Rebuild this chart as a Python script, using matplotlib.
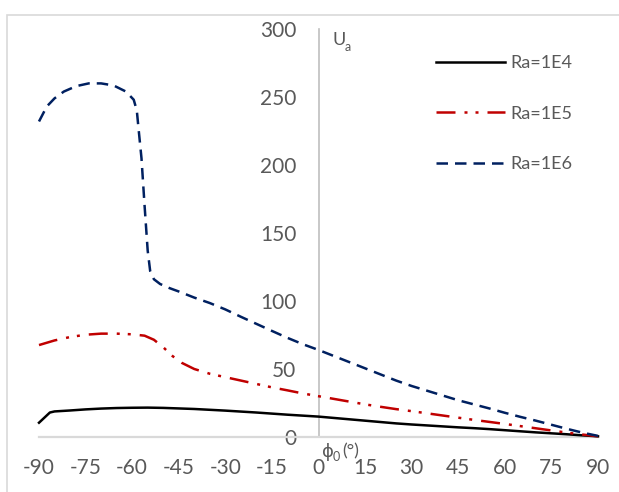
import matplotlib
matplotlib.use("Agg")
import matplotlib.pyplot as plt
from matplotlib.patches import Rectangle

plt.rcParams['font.family'] = ['Lato', 'DejaVu Sans']

# Ra = 1E4
phi_1e4 = [-90, -86.5, -85, -80, -75, -70, -65, -60, -55, -50, -45, -40, -35, -30,
           -25, -20, -15, -10, -5, 0, 5, 10, 15, 20, 25, 30, 35, 40, 45, 50, 55,
           60, 65, 70, 75, 80, 85, 90]
ua_1e4 = [10.5, 18.0, 18.8, 19.5, 20.3, 20.9, 21.3, 21.5, 21.6, 21.4, 21.0, 20.6,
          20.0, 19.4, 18.7, 18.0, 17.2, 16.4, 15.7, 15.0, 14.0, 13.0, 12.0, 11.0,
          10.0, 9.2, 8.5, 7.8, 7.1, 6.5, 5.8, 5.0, 4.2, 3.4, 2.7, 2.0, 1.2, 0.5]

# Ra = 1E5
phi_1e5 = [-90, -85, -80, -75, -70, -65, -60, -56, -53, -50, -47, -44, -40, -35,
           -30, -25, -20, -15, -10, -5, 0, 5, 10, 15, 20, 25, 30, 35, 40, 45, 50,
           55, 60, 65, 70, 75, 80, 85, 90]
ua_1e5 = [67.6, 71.0, 73.5, 75.2, 76.0, 76.0, 75.5, 74.5, 71.5, 66.0, 59.5, 54.5,
          50.0, 46.5, 44.0, 41.5, 39.0, 36.5, 34.3, 32.0, 30.0, 28.0, 26.0, 24.0,
          22.2, 20.5, 19.0, 17.4, 15.8, 14.2, 12.6, 11.1, 9.6, 8.0, 6.4, 4.8, 3.2,
          1.8, 0.5]

# Ra = 1E6
phi_1e6 = [-90, -87.5, -85, -82, -78, -74, -70, -66, -62, -59.5, -58.5, -58, -57,
           -56, -55, -54.2, -53, -51, -48, -45, -40, -35, -30, -25, -20, -15, -10,
           -5, 0, 5, 10, 15, 20, 25, 30, 35, 40, 45, 50, 55, 60, 65, 70, 75, 80,
           85, 90]
ua_1e6 = [232, 243, 249, 254, 258, 260, 260, 258.5, 254, 248, 240, 228, 205, 170,
          137, 122, 116, 112.5, 109.5, 107, 102.5, 98.5, 93.8, 88.4, 83.2, 78.0,
          72.9, 68.2, 64, 59.5, 55, 50.5, 46, 41.5, 37.5, 34, 30.5, 27, 24, 21,
          17.8, 14.8, 12, 9, 6, 3.2, 0.8]

x_ticks = [-90, -75, -60, -45, -30, -15, 0, 15, 30, 45, 60, 75, 90]
y_ticks = [0, 50, 100, 150, 200, 250, 300]

TEXT = '#595959'
W, H = 619, 492

fig = plt.figure(figsize=(W / 100, H / 100), dpi=100)
fig.patch.set_facecolor('white')

# chart-area border (only the left and top edges fall inside the image)
fig.patches.append(Rectangle((7 / W, -0.1), 1.2, (H - 15) / H + 0.1,
                             transform=fig.transFigure, fill=False,
                             edgecolor='#D9D9D9', linewidth=1.2))

ax = fig.add_axes([39 / W, (H - 437) / H, (598 - 39) / W, (437 - 29) / H])
ax.set_xlim(-90, 90)
ax.set_ylim(0, 300)

lw = 1.8
ax.plot(phi_1e4, ua_1e4, color='black', lw=lw, label='Ra=1E4',
        solid_joinstyle='round', clip_on=False, zorder=3)
ax.plot(phi_1e5, ua_1e5, color='#C00000', lw=lw, label='Ra=1E5',
        dashes=(7.6, 3.6, 1.2, 3.2, 1.2, 3.6), clip_on=False, zorder=3)
ax.plot(phi_1e6, ua_1e6, color='#002060', lw=lw, label='Ra=1E6',
        dashes=(4.6, 2.8), clip_on=False, zorder=3)

# axes crossing at the origin
for s in ('top', 'right'):
    ax.spines[s].set_visible(False)
ax.spines['left'].set_position(('data', 0))
ax.spines['left'].set_color('#BFBFBF')
ax.spines['left'].set_linewidth(1.2)
ax.spines['bottom'].set_color('#D9D9D9')
ax.spines['bottom'].set_linewidth(1.6)

ax.set_xticks(x_ticks)
ax.set_yticks(y_ticks)
ax.set_xticklabels([str(v) for v in x_ticks])
ax.set_yticklabels([str(v) for v in y_ticks])
ax.tick_params(axis='both', length=0, labelsize=15, labelcolor=TEXT)
ax.tick_params(axis='y', pad=16)
ax.tick_params(axis='x', pad=15)

# axis titles
ax.text(333 / W, (H - 40) / H, 'U', transform=fig.transFigure, fontsize=13,
        color=TEXT, ha='left', va='center')
ax.text(345 / W, (H - 47) / H, 'a', transform=fig.transFigure, fontsize=9,
        color=TEXT, ha='left', va='center')
ax.text(322 / W, (H - 452) / H, '\u03d5', transform=fig.transFigure,
        fontsize=13, color=TEXT, ha='left', va='center',
        family=['DejaVu Sans'])
ax.text(333 / W, (H - 457) / H, '0', transform=fig.transFigure, fontsize=9,
        color=TEXT, ha='left', va='center')
ax.text(342 / W, (H - 451) / H, '(\u00b0)', transform=fig.transFigure,
        fontsize=13, color=TEXT, ha='left', va='center')

leg = ax.legend(loc='upper left', bbox_to_anchor=(422 / W, (H - 41) / H),
                bbox_transform=fig.transFigure, frameon=False, fontsize=13,
                handlelength=3.8, handletextpad=0.3, labelspacing=1.9,
                borderpad=0.3)
for t in leg.get_texts():
    t.set_color(TEXT)

fig.savefig('out.png', dpi=100)
